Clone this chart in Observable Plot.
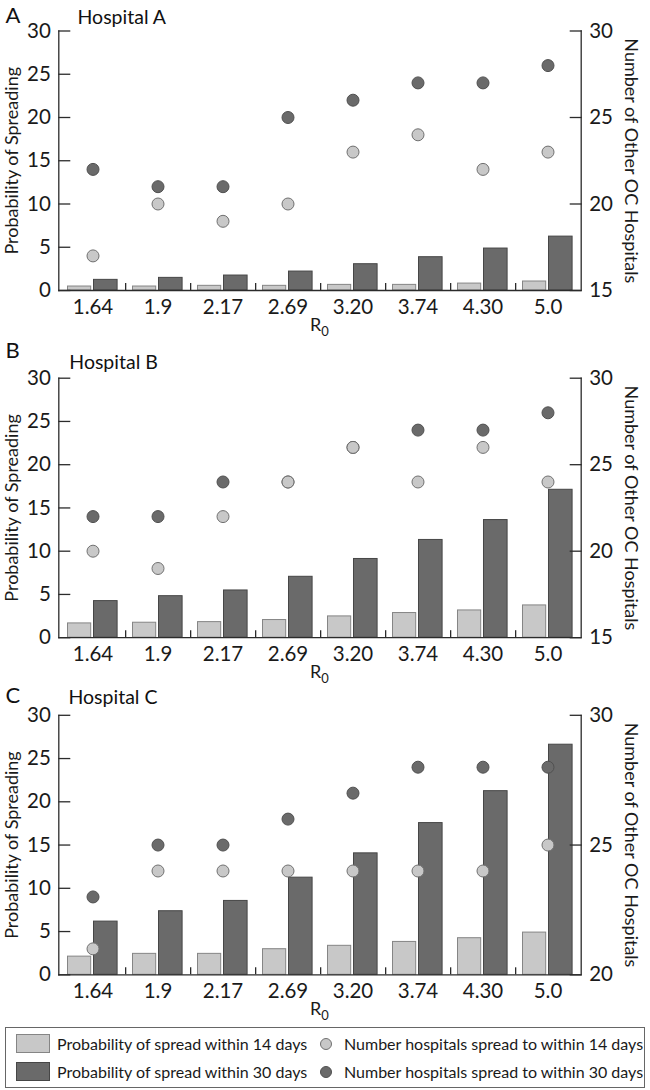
<!DOCTYPE html>
<html><head><meta charset="utf-8">
<script src="https://cdn.jsdelivr.net/npm/d3@7"></script>
<script src="https://cdn.jsdelivr.net/npm/@observablehq/plot@0.6"></script>
<style>
body{margin:0;background:#fff;font-family:Lato,"Open Sans",sans-serif;color:#1a1a1a;}
#wrap{position:relative;width:650px;height:1090px;overflow:hidden;}
.panel{position:absolute;left:0;}
.panel svg{overflow:visible;}
.lg{position:absolute;box-sizing:border-box;}
.lgt{position:absolute;height:20px;line-height:20px;font-size:16px;white-space:nowrap;}
</style></head><body><div id="wrap"></div><script>
// ---- data ----
const r0 = ["1.64","1.9","2.17","2.69","3.20","3.74","4.30","5.0"];
const probA14 = [0.46,0.46,0.54,0.54,0.65,0.65,0.8,1.04];
const probA30 = [1.23,1.46,1.73,2.19,3.04,3.85,4.85,6.23];
const hospA14 = [17,20,19,20,23,24,22,23];
const hospA30 = [22,21,21,25,26,27,27,28];
const probB14 = [1.65,1.73,1.8,2.04,2.46,2.85,3.15,3.73];
const probB30 = [4.23,4.8,5.46,7.04,9.1,11.3,13.6,17.1];
const hospB14 = [20,19,22,24,26,24,26,24];
const hospB30 = [22,22,24,24,26,27,27,28];
const probC14 = [2.1,2.42,2.42,2.96,3.35,3.8,4.23,4.88];
const probC30 = [6.15,7.35,8.54,11.23,14.04,17.54,21.23,26.6];
const hospC14 = [21,24,24,24,24,24,24,25];
const hospC30 = [23,25,25,26,27,28,28,28];
const leftTicks = [0,5,10,15,20,25,30];
const rightTicksAB = [15,20,25,30];
const rightTicksC = [20,25,30];
const legendLabels = ["Probability of spread within 14 days","Probability of spread within 30 days","Number hospitals spread to within 14 days","Number hospitals spread to within 30 days"];

// ---- styles ----
const LIGHT = "#c8c8c8", LIGHT_S = "#858585", DARK = "#6a6a6a", DARK_S = "#464646", AXIS = "#2b2b2b";
const W = 650, ML = 58.3, MR = 69.3, PH = 259.5;
const panels = [
  {letter:"A", title:"Hospital A", p14:probA14, p30:probA30, h14:hospA14, h30:hospA30, rTicks:rightTicksAB, top:0, mt:30.5, mb:50, letterDy:-7.8, titleDx:18.7, titleDy:-7.2},
  {letter:"B", title:"Hospital B", p14:probB14, p30:probB30, h14:hospB14, h30:hospB30, rTicks:rightTicksAB, top:340, mt:37.7, mb:45, letterDy:-19.7, titleDx:10.5, titleDy:-8.7},
  {letter:"C", title:"Hospital C", p14:probC14, p30:probC30, h14:hospC14, h30:hospC30, rTicks:rightTicksC, top:680, mt:34.8, mb:45, letterDy:-11.8, titleDx:9.7, titleDy:-11.5}
];

const wrap = document.getElementById("wrap");
const band = (W - ML - MR) / r0.length;

for (const cfg of panels) {
  const rmin = cfg.rTicks[0];
  const toLeft = v => (v - rmin) * 30 / (30 - rmin);
  const fromLeft = v => Math.round(rmin + v * (30 - rmin) / 30);
  const b14 = r0.map((r, i) => ({r, v: cfg.p14[i]}));
  const b30 = r0.map((r, i) => ({r, v: cfg.p30[i]}));
  const d14 = r0.map((r, i) => ({r, n: cfg.h14[i]}));
  const d30 = r0.map((r, i) => ({r, n: cfg.h30[i]}));
  const height = cfg.mt + PH + cfg.mb;
  const svg = Plot.plot({
    width: W, height, marginLeft: ML, marginRight: MR, marginTop: cfg.mt, marginBottom: cfg.mb,
    style: {fontFamily: "Lato, sans-serif", color: "#1a1a1a", background: "transparent", overflow: "visible"},
    x: {type: "band", domain: r0, padding: 0},
    y: {domain: [0, 30]},
    marks: [
      Plot.barY(b14, {x: "r", y: "v", fill: LIGHT, stroke: LIGHT_S, strokeWidth: 1, insetLeft: 7.5, insetRight: 34.3}),
      Plot.barY(b30, {x: "r", y: "v", fill: DARK, stroke: DARK_S, strokeWidth: 1, insetLeft: 33.5, insetRight: 7.9}),
      Plot.dot(d30, {x: "r", y: d => toLeft(d.n), r: 6, fill: DARK, stroke: "#505050", strokeWidth: 1}),
      Plot.dot(d14, {x: "r", y: d => toLeft(d.n), r: 6, fill: LIGHT, stroke: "#707070", strokeWidth: 1}),
      Plot.ruleY([0], {stroke: AXIS, strokeWidth: 1.3}),
      Plot.frame({anchor: "left", stroke: AXIS, strokeWidth: 1.3}),
      Plot.frame({anchor: "right", stroke: AXIS, strokeWidth: 1.3}),
      Plot.axisY({anchor: "left", ticks: leftTicks, tickSize: 12, dx: 12, fill: "none", stroke: AXIS, strokeWidth: 1.3, label: null}),
      Plot.axisY({anchor: "left", ticks: leftTicks, tickSize: 0, tickPadding: 8, fontSize: 20.5, fill: "#1a1a1a", label: null}),
      Plot.axisY({anchor: "right", ticks: cfg.rTicks.map(toLeft), tickSize: 12, dx: -12, fill: "none", stroke: AXIS, strokeWidth: 1.3, label: null}),
      Plot.axisY({anchor: "right", ticks: cfg.rTicks.map(toLeft), tickFormat: fromLeft, tickSize: 0, tickPadding: 8, fontSize: 20.5, fill: "#1a1a1a", label: null}),
      Plot.axisX({ticks: r0.slice(0, -1), tickSize: 7, dx: band / 2, dy: -7, fill: "none", stroke: AXIS, strokeWidth: 1.3, label: null}),
      Plot.axisX({tickSize: 0, tickPadding: 8.5, fontSize: 20.5, fill: "#1a1a1a", label: null}),
      Plot.text([cfg.letter], {frameAnchor: "top-left", dx: -53.3, dy: cfg.letterDy, textAnchor: "start", lineAnchor: "bottom", fontSize: 22, fill: "#111"}),
      Plot.text([cfg.title], {frameAnchor: "top-left", dx: cfg.titleDx, dy: cfg.titleDy, textAnchor: "start", lineAnchor: "bottom", fontSize: 19.5, fill: "#111"}),
      Plot.text(["Probability of Spreading"], {frameAnchor: "left", rotate: -90, dx: -47, fontSize: 18, textAnchor: "middle", lineAnchor: "middle", fill: "#1a1a1a"}),
      Plot.text(["Number of Other OC Hospitals"], {frameAnchor: "right", rotate: 90, dx: 49.5, fontSize: 18, textAnchor: "middle", lineAnchor: "middle", fill: "#1a1a1a"})
    ]
  });
  // x-axis title R0 with subscript
  const t = d3.select(svg).append("text")
    .attr("x", ML + (W - ML - MR) / 2).attr("y", cfg.mt + PH + 40.7)
    .attr("text-anchor", "middle").attr("fill", "#1a1a1a")
    .style("font-family", "Lato, sans-serif").style("font-size", "18px");
  t.append("tspan").text("R");
  t.append("tspan").attr("dy", 5).style("font-size", "13px").text("0");
  const div = document.createElement("div");
  div.className = "panel";
  div.style.top = cfg.top + "px";
  div.appendChild(svg);
  wrap.appendChild(div);
}

// ---- legend ----
function el(cls, css, text) {
  const d = document.createElement("div");
  d.className = cls; Object.assign(d.style, css);
  if (text) d.textContent = text;
  wrap.appendChild(d); return d;
}
el("lg", {left: "5px", top: "1027px", width: "640px", height: "61px", border: "1px solid #666"});
el("lg", {left: "16px", top: "1034px", width: "34px", height: "19px", background: LIGHT, border: "1px solid " + LIGHT_S});
el("lg", {left: "16px", top: "1062px", width: "34px", height: "19px", background: DARK, border: "1px solid " + DARK_S});
el("lg", {left: "320px", top: "1037.5px", width: "12px", height: "12px", borderRadius: "50%", background: LIGHT, border: "1px solid #707070"});
el("lg", {left: "320px", top: "1065.5px", width: "12px", height: "12px", borderRadius: "50%", background: DARK, border: "1px solid #505050"});
el("lgt", {left: "57px", top: "1033.5px"}, legendLabels[0]);
el("lgt", {left: "57px", top: "1061.5px"}, legendLabels[1]);
el("lgt", {left: "344px", top: "1033.5px"}, legendLabels[2]);
el("lgt", {left: "344px", top: "1061.5px"}, legendLabels[3]);
</script></body></html>
